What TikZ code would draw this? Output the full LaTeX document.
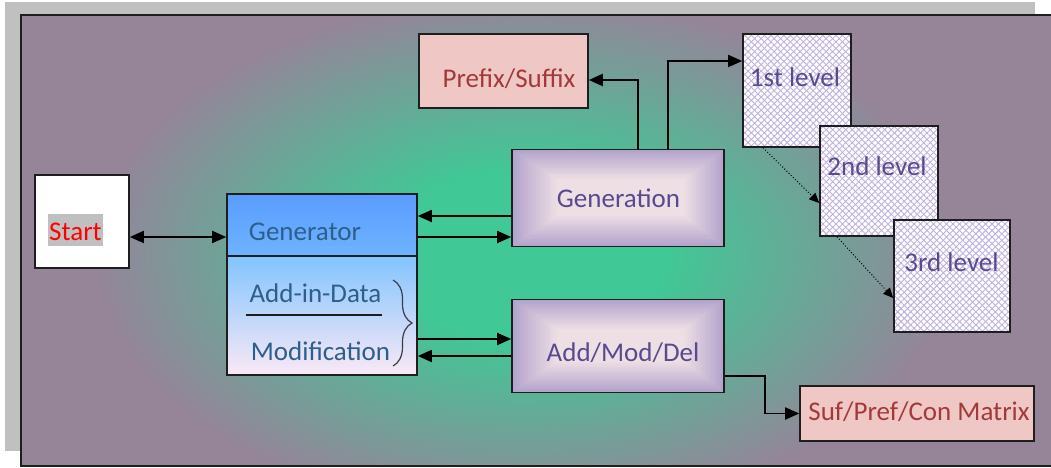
\documentclass[tikz,border=0pt]{standalone}
\usepackage{fontspec}
\setmainfont{Carlito}
\usetikzlibrary{arrows.meta,patterns.meta,decorations.pathreplacing}

% palette
\definecolor{framepurple}{HTML}{968499}
\definecolor{framegreen}{HTML}{40C896}
\definecolor{shadowgray}{HTML}{C0C0C0}
\definecolor{lavedge}{HTML}{B2A2CB}
\definecolor{lavcore}{HTML}{EEDFE5}
\definecolor{genblueA}{HTML}{5A9CFF}
\definecolor{genblueB}{HTML}{6DB4FF}
\definecolor{listtop}{HTML}{82C4FF}
\definecolor{listbot}{HTML}{FAE9F5}
\definecolor{rosefill}{HTML}{EFC8C5}
\definecolor{rosetext}{HTML}{A33A3A}
\definecolor{steeltext}{HTML}{2E5E8C}
\definecolor{violettext}{HTML}{584A8E}
\definecolor{leveltext}{HTML}{5A4A92}
\definecolor{hatch}{HTML}{BFB1DF}
\definecolor{edge}{HTML}{1E1E1E}
\definecolor{bracecol}{HTML}{3C3C48}

% soft glow of the panel, sized in bp and stretched vertically where it is used
\pgfdeclareradialshading{panelglow}{\pgfpoint{0bp}{0bp}}{%
  color(0bp)=(framegreen); color(140bp)=(framegreen);
  color(430bp)=(framepurple); color(700bp)=(framepurple)}

% rectangular glow inside a drawn box node: nested rectangles from the rim inwards
\newcommand{\boxglowin}[1]{%
  \begin{scope}
    \clip ([shift={(0.8,0.8)}]#1.north west) rectangle ([shift={(-0.8,-0.8)}]#1.south east);
    \foreach \k in {1,...,24}{%
      \pgfmathtruncatemacro{\mixpc}{100*\k/24}%
      \fill[lavcore!\mixpc!lavedge]
        ([shift={({46*\k/24},{30*\k/24})}]#1.north west) rectangle
        ([shift={({-40*\k/24},{-31*\k/24})}]#1.south east);
    }
  \end{scope}}

\begin{document}
\begin{tikzpicture}[x=1pt,y=-1pt,
  font=\fontsize{27}{32}\selectfont,
  box/.style={draw=edge, line width=1.6pt, inner sep=0pt},
  procbox/.style={box, fill=lavedge},
  rosebox/.style={box, fill=rosefill},
  levelbox/.style={box,
    preaction={fill=white},
    preaction={pattern={Lines[angle=45,distance=4.6pt,line width=0.9pt]}, pattern color=hatch},
    preaction={pattern={Lines[angle=-45,distance=4.6pt,line width=0.9pt]}, pattern color=hatch}},
  lbl/.style={anchor=base, inner sep=0pt},
  arr/.style={line width=1.8pt, -{Triangle[length=14pt,width=12pt]}},
  dualarr/.style={line width=1.8pt, {Triangle[length=14pt,width=12pt]}-{Triangle[length=14pt,width=12pt]}},
  dotarr/.style={line width=1pt, dotted, -{Triangle[length=10pt,width=9pt]}}
]
\useasboundingbox (0,0) rectangle (1051,468);

% drop shadow and shaded panel
\fill[shadowgray] (5,2) rectangle (1035,451);
\begin{scope}
  \clip (21,15) rectangle (1058,466);
  \fill[framepurple] (21,15) rectangle (1058,466);
  \begin{scope}[transform canvas={shift={(525,255)}, yscale=0.6}]
    \pgfuseshading{panelglow}
  \end{scope}
\end{scope}
\draw[edge, line width=2pt] (21,15) rectangle (1058,466);

% start
\node[box, fill=white, minimum width=94pt, minimum height=93pt] (start) at (82,221.5) {};
\node[lbl] (startlbl) at (75.5,240) {\setlength{\fboxsep}{0pt}\colorbox{shadowgray}{\hspace{1pt}\rule[-6pt]{0pt}{32pt}\textcolor{red}{Start}\hspace{1pt}}};

% generator with its list of operations
\node[box, top color=genblueA, bottom color=genblueB, minimum width=190pt, minimum height=62pt] (generator) at (322,225) {};
\node[box, top color=listtop, bottom color=listbot, minimum width=190pt, minimum height=119pt] (genlist) at (322,315.5) {};
\node[lbl, text=steeltext] (generatorlbl) at (305,240) {Generator};
\node[lbl, text=steeltext] (addlbl) at (315.5,302) {Add-in-Data};
\node[lbl, text=steeltext] (modlbl) at (320.5,360) {Modification};
\draw[edge, line width=1.4pt] (246,315) -- (382,315);
\draw[bracecol, line width=1.2pt, decorate, decoration={brace, amplitude=19pt, aspect=0.5}] (393,280) -- (393,366);

% process boxes
\node[procbox, minimum width=212pt, minimum height=96pt] (generation) at (618,198) {};
\boxglowin{generation}
\node[lbl, text=violettext] (generationlbl) at (618.5,207) {Generation};
\node[procbox, minimum width=212pt, minimum height=92pt] (amd) at (618,346) {};
\boxglowin{amd}
\node[lbl, text=violettext] (amdlbl) at (623,361) {Add/Mod/Del};

% outputs
\node[rosebox, minimum width=169pt, minimum height=74pt] (prefix) at (503.5,71) {};
\node[lbl, text=rosetext] (prefixlbl) at (509,88) {Prefix/Suffix};
\node[rosebox, minimum width=234pt, minimum height=55pt] (matrix) at (917,413.5) {};
\node[lbl, text=rosetext] (matrixlbl) at (919,420) {Suf/Pref/Con Matrix};

% cascade of levels
\node[levelbox, minimum width=108pt, minimum height=113pt] (lvl1) at (797,90.5) {};
\node[lbl, text=leveltext] (lvl1lbl) at (795,87) {1st level};
\node[levelbox, minimum width=118pt, minimum height=110pt] (lvl2) at (879,181) {};
\node[lbl, text=leveltext] (lvl2lbl) at (877,175) {2nd level};
\node[levelbox, minimum width=116pt, minimum height=112pt] (lvl3) at (952,276) {};
\node[lbl, text=leveltext] (lvl3lbl) at (951.5,271) {3rd level};

% connectors
\draw[dualarr] (start.east |- 0,237) -- (generator.west |- 0,237);
\draw[arr] (generation.west |- 0,216) -- (generator.east |- 0,216);
\draw[arr] (generator.east |- 0,237) -- (generation.west |- 0,237);
\draw[arr] (genlist.east |- 0,339) -- (amd.west |- 0,339);
\draw[arr] (amd.west |- 0,356) -- (genlist.east |- 0,356);
\draw[arr] (generation.north -| 638,0) |- (prefix.east |- 0,80);
\draw[arr] (generation.north -| 668,0) |- (lvl1.west |- 0,61);
\draw[dotarr] (lvl1.south -| 763,0) -- (lvl2.west |- 0,203);
\draw[dotarr] (lvl2.south -| 837,0) -- (lvl3.west |- 0,298);
\draw[arr] (amd.east |- 0,376) -- ++(40,0) |- (matrix.west);
\end{tikzpicture}
\end{document}
